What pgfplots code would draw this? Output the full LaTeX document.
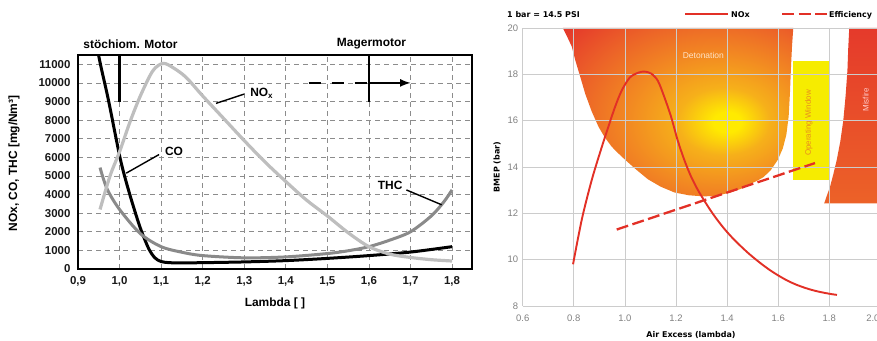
\documentclass[border=0pt]{standalone}
\usepackage{fontspec}
\setmainfont{Liberation Sans}
\newfontfamily\djv{DejaVu Sans}
\usepackage{pgfplots}
\pgfplotsset{compat=1.18}
\definecolor{noxred}{RGB}{226,48,38}
\definecolor{lgray}{RGB}{190,190,190}
\definecolor{mgray}{RGB}{138,138,138}
\definecolor{opyellow}{RGB}{246,236,0}
\definecolor{opText}{RGB}{232,140,30}
\definecolor{detred}{RGB}{229,58,43}
\definecolor{detredor}{RGB}{236,98,40}
\definecolor{detorange}{RGB}{242,136,34}
\definecolor{detyor}{RGB}{246,176,26}
\definecolor{detyellow}{RGB}{255,234,0}
\pgfdeclareradialshading{deton}{\pgfpoint{11bp}{-3bp}}{color(0bp)=(detyellow); color(3bp)=(detyellow); color(10bp)=(detyor); color(20bp)=(detorange); color(30bp)=(detredor); color(40bp)=(detred); color(100bp)=(detred)}
\begin{document}
\begin{tikzpicture}
% ---------------- left panel ----------------
\begin{axis}[
  at={(78bp,72bp)}, anchor=south west, scale only axis,
  width=394bp, height=214bp,
  xmin=0.9, xmax=1.848, ymin=0, ymax=11500,
  scaled x ticks=false, scaled y ticks=false,
  xtick={0.9,1.0,1.1,1.2,1.3,1.4,1.5,1.6,1.7,1.8},
  xticklabels={{0,9},{1,0},{1,1},{1,2},{1,3},{1,4},{1,5},{1,6},{1,7},{1,8}},
  ytick={0,1000,2000,3000,4000,5000,6000,7000,8000,9000,10000,11000},
  yticklabels={0,1000,2000,3000,4000,5000,6000,7000,8000,9000,10000,11000},
  grid=major, grid style={dash pattern=on 5bp off 4bp, black!45, line width=0.7bp},
  major tick length=0pt,
  axis line style={line width=2.8bp, black},
  tick label style={font=\fontsize{11.5}{12}\selectfont\bfseries, text=black!90},
  xticklabel style={yshift=-4bp},
  yticklabel style={xshift=-4bp},
]
% CO (black)
\addplot[black, line width=3bp, smooth] coordinates {
(0.940,12600)(0.954,11000)(0.973,9100)(0.999,6200)(1.012,5000)(1.030,3600)(1.050,2200)(1.070,1100)(1.085,600)(1.100,400)(1.120,340)(1.150,330)(1.200,340)(1.300,380)(1.400,450)(1.500,570)(1.600,720)(1.700,910)(1.800,1200)};
% THC (medium gray)
\addplot[mgray, line width=3bp, smooth] coordinates {
(0.953,5450)(0.970,4300)(1.000,3200)(1.050,1900)(1.100,1200)(1.150,900)(1.200,720)(1.300,600)(1.400,650)(1.500,830)(1.550,980)(1.600,1200)(1.650,1550)(1.700,2000)(1.750,2850)(1.780,3600)(1.800,4250)};
% NOx (light gray)
\addplot[lgray, line width=3.2bp, smooth] coordinates {
(0.953,3200)(0.977,5000)(1.000,6300)(1.025,7900)(1.050,9300)(1.080,10650)(1.105,11050)(1.130,10800)(1.160,10300)(1.200,9300)(1.250,8100)(1.300,6900)(1.350,5750)(1.400,4700)(1.450,3700)(1.500,2850)(1.550,1950)(1.600,1200)(1.650,800)(1.700,620)(1.750,500)(1.800,430)};
% leaders and labels
\draw[line width=1.4bp] (axis cs:1.232,8900) -- (axis cs:1.300,9400);
\node[font=\fontsize{12}{12}\selectfont\bfseries] at (axis cs:1.342,9450) {NO\textsubscript{x}};
\draw[line width=1.4bp] (axis cs:1.016,5150) -- (axis cs:1.095,6150);
\node[font=\fontsize{12}{12}\selectfont\bfseries] at (axis cs:1.131,6300) {CO};
\draw[line width=1.4bp] (axis cs:1.690,4250) -- (axis cs:1.775,3450);
\node[font=\fontsize{12}{12}\selectfont\bfseries] at (axis cs:1.651,4500) {THC};
% motor markers
\draw[line width=2.5bp] (axis cs:1.0,11500) -- (axis cs:1.0,9000);
\draw[line width=2.5bp] (axis cs:1.6,11500) -- (axis cs:1.6,9000);
\draw[line width=2.5bp, dash pattern=on 12bp off 11bp] (axis cs:1.455,10000) -- (axis cs:1.6,10000);
\draw[line width=2.5bp, -latex] (axis cs:1.6,10000) -- (axis cs:1.70,10000);
\end{axis}
\node[font=\fontsize{12}{12}\selectfont\bfseries] at (130.5bp,297bp) {st\"ochiom. Motor};
\node[font=\fontsize{12}{12}\selectfont\bfseries] at (371.5bp,297bp) {Magermotor};
\node[font=\fontsize{12}{12}\selectfont\bfseries] at (275bp,38bp) {Lambda [ ]};
\node[font=\fontsize{12}{12}\selectfont\bfseries, rotate=90] at (14bp,177.5bp) {NOx, CO, THC [mg/Nm³]};
% ---------------- right panel ----------------
\begin{axis}[
  at={(522.7bp,35bp)}, anchor=south west, scale only axis,
  width=357.7bp, height=278bp,
  xmin=0.6, xmax=2.0, ymin=8, ymax=20,
  scaled x ticks=false, scaled y ticks=false,
  xtick={0.6,0.8,1.0,1.2,1.4,1.6,1.8,2.0},
  xticklabels={0.6,0.8,1.0,1.2,1.4,1.6,1.8,\makebox[0pt][r]{2.0\hspace{1bp}}},
  ytick={8,10,12,14,16,18,20},
  yticklabels={8,10,12,14,16,18,20},
  grid=major, grid style={black!20, line width=0.8bp},
  axis line style={draw=none},
  major tick length=0pt,
  tick label style={font=\fontsize{9.5}{10}\selectfont, text=black!50},
  xticklabel style={yshift=-5bp},
  yticklabel style={xshift=-1bp},
  set layers,
]
% Detonation region
\addplot[on layer=axis background, draw=none, shading=deton] coordinates {
(0.757,20)(0.775,19.6)(0.792,19.2)(0.806,18.6)(0.825,17.9)(0.845,17.15)(0.870,16.4)(0.897,15.73)(0.920,15.3)(0.948,14.88)(0.975,14.58)(1.000,14.32)(1.045,13.88)(1.090,13.47)(1.140,13.15)(1.194,12.9)(1.250,12.78)(1.310,12.73)(1.360,12.76)(1.413,12.9)(1.455,13.06)(1.490,13.26)(1.520,13.42)(1.542,13.56)(1.570,13.85)(1.598,14.3)(1.618,14.8)(1.632,15.4)(1.641,16.2)(1.646,17.2)(1.650,18.3)(1.654,19.2)(1.659,20)} -- cycle;
% Operating window
\addplot[on layer=axis background, draw=none, fill=opyellow] coordinates {
(1.659,13.45)(1.800,13.45)(1.800,18.56)(1.659,18.56)} -- cycle;
% Misfire region
\addplot[on layer=axis background, draw=none, top color=detred, bottom color=detredor] coordinates {
(1.878,20)(1.874,19.1)(1.871,18.19)(1.864,17.1)(1.855,16.03)(1.843,15.1)(1.829,14.3)(1.816,13.7)(1.803,13.15)(1.790,12.75)(1.780,12.43)(2.0,12.43)(2.0,20)} -- cycle;
% NOx curve
\addplot[noxred, line width=1.9bp, smooth] coordinates {
(0.797,9.80)(0.832,11.77)(0.871,13.47)(0.910,14.88)(0.935,15.73)(0.961,16.58)(0.987,17.29)(1.019,17.86)(1.052,18.07)(1.077,18.12)(1.103,18.03)(1.129,17.72)(1.155,17.0)(1.181,16.16)(1.206,15.17)(1.232,14.32)(1.258,13.61)(1.284,13.04)(1.310,12.56)(1.335,12.13)(1.360,11.74)(1.390,11.32)(1.420,10.95)(1.450,10.62)(1.480,10.31)(1.510,10.03)(1.540,9.77)(1.570,9.53)(1.600,9.32)(1.630,9.13)(1.660,8.97)(1.690,8.84)(1.720,8.73)(1.750,8.64)(1.780,8.57)(1.810,8.51)(1.830,8.48)};
% Efficiency
\addplot[noxred, line width=2.3bp, dash pattern=on 12bp off 4.5bp] coordinates {
(0.968,11.30)(1.744,14.17)};
\node[font=\fontsize{8.5}{9}\selectfont, text=white!78!orange] at (axis cs:1.307,18.83) {Detonation};
\node[font=\fontsize{8}{9}\selectfont, text=opText, rotate=90] at (axis cs:1.72,15.9) {Operating Window};
\node[font=\fontsize{8}{9}\selectfont, text=white!80!red, rotate=90] at (axis cs:1.943,16.9) {Misfire};
\end{axis}
\node[font=\djv\fontsize{8}{9}\selectfont\bfseries, anchor=west, inner sep=0pt] at (507bp,326bp) {1 bar = 14.5 PSI};
\draw[noxred, line width=2.2bp] (685bp,327bp) -- (728bp,327bp);
\node[font=\djv\fontsize{8}{9}\selectfont\bfseries, anchor=west, inner sep=0pt] at (731bp,326bp) {NOx};
\draw[noxred, line width=2.2bp, dash pattern=on 12bp off 4.5bp] (782bp,327bp) -- (827bp,327bp);
\node[font=\djv\fontsize{8}{9}\selectfont\bfseries, anchor=west, inner sep=0pt] at (829bp,326bp) {Efficiency};
\node[font=\djv\fontsize{8}{9}\selectfont\bfseries, rotate=90] at (497bp,174bp) {BMEP (bar)};
\node[font=\djv\fontsize{8}{9}\selectfont\bfseries] at (691bp,6bp) {Air Excess (lambda)};
\pgfresetboundingbox
\path[use as bounding box] (0,0) rectangle (877bp,341bp);
\end{tikzpicture}
\end{document}
